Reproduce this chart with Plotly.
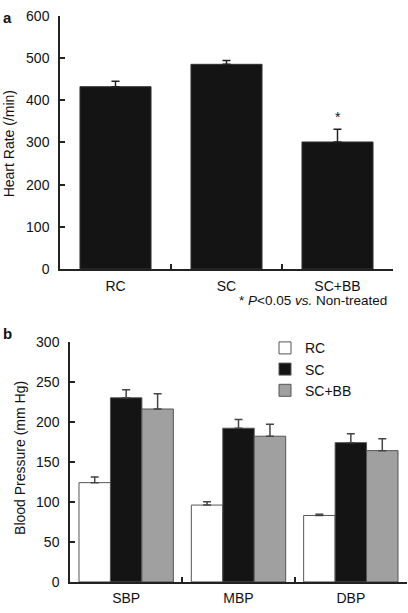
import plotly.graph_objects as go

# Panel a: heart rate
hr_groups = ["RC", "SC", "SC+BB"]
hr_values = [432, 485, 301]
hr_err = [13, 9, 30]

# Panel b: blood pressure
bp_categories = ["SBP", "MBP", "DBP"]
bp_rc = [124, 96, 83]
bp_rc_err = [7, 4, 1.5]
bp_sc = [230, 192, 174]
bp_sc_err = [10, 11, 11]
bp_scbb = [216, 182, 164]
bp_scbb_err = [19, 15, 15]

W, H = 408, 613
FONT = "Liberation Sans"
AX = "#222"
FS = 14

fig = go.Figure()

fig.add_trace(go.Bar(
    x=hr_groups, y=hr_values, width=0.64,
    marker=dict(color="#141414", line=dict(color="#333", width=1)),
    error_y=dict(type="data", symmetric=False, array=hr_err, arrayminus=[0, 0, 0],
                 color="#222", thickness=1.5, width=4),
    showlegend=False, xaxis="x", yaxis="y"))

def bp_trace(name, vals, errs, fill):
    return go.Bar(
        name=name, x=bp_categories, y=vals,
        marker=dict(color=fill, line=dict(color="#555", width=1)),
        error_y=dict(type="data", symmetric=False, array=errs, arrayminus=[0] * len(errs),
                     color="#444", thickness=1.5, width=4),
        xaxis="x2", yaxis="y2")

fig.add_trace(bp_trace("RC", bp_rc, bp_rc_err, "#ffffff"))
fig.add_trace(bp_trace("SC", bp_sc, bp_sc_err, "#141414"))
fig.add_trace(bp_trace("SC+BB", bp_scbb, bp_scbb_err, "#a0a0a0"))

def px_x(p):
    return p / W

def px_y(p):
    return (H - p) / H

axis_common = dict(showline=True, linecolor=AX, linewidth=1.5, ticks="inside",
                   tickcolor=AX, ticklen=5, tickwidth=1.5, showgrid=False,
                   zeroline=False, tickfont=dict(family=FONT, size=FS, color="#111"))

fig.update_layout(
    width=W, height=H,
    margin=dict(l=0, r=0, t=0, b=0),
    paper_bgcolor="white", plot_bgcolor="white",
    barmode="group", bargap=0.16, bargroupgap=0,
    font=dict(family=FONT, size=FS, color="#111"),
    xaxis=dict(domain=[px_x(60), px_x(393)], range=[-0.5, 2.5], tickson="boundaries",
               anchor="y", ticklabelstandoff=3, **axis_common),
    yaxis=dict(domain=[px_y(268), px_y(8)], range=[0, 600], dtick=100, anchor="x",
               ticklabelstandoff=6, **axis_common),
    xaxis2=dict(domain=[px_x(70), px_x(407)], range=[-0.5, 2.5], tickson="boundaries",
                anchor="y2", ticklabelstandoff=3, **axis_common),
    yaxis2=dict(domain=[px_y(589.3), px_y(342.7)], range=[0, 300], dtick=50, anchor="x2",
                ticklabelstandoff=6, **axis_common),
    legend=dict(x=px_x(265), y=px_y(333), xanchor="left", yanchor="top",
                font=dict(family=FONT, size=FS), bgcolor="rgba(0,0,0,0)",
                itemwidth=30, tracegroupgap=0),
    annotations=[
        dict(text="<b>a</b>", x=px_x(1), y=px_y(-1), xref="paper", yref="paper",
             xanchor="left", yanchor="top", showarrow=False, font=dict(size=15, family=FONT)),
        dict(text="<b>b</b>", x=px_x(1), y=px_y(323), xref="paper", yref="paper",
             xanchor="left", yanchor="top", showarrow=False, font=dict(size=15, family=FONT)),
        dict(text="Heart Rate (/min)", x=px_x(9), y=px_y(140), xref="paper", yref="paper",
             textangle=-90, xanchor="center", yanchor="middle", showarrow=False,
             font=dict(size=FS, family=FONT)),
        dict(text="Blood Pressure (mm Hg)", x=px_x(20), y=px_y(462), xref="paper", yref="paper",
             textangle=-90, xanchor="center", yanchor="middle", showarrow=False,
             font=dict(size=FS, family=FONT)),
        dict(text="*", x="SC+BB", y=hr_values[2] + hr_err[2] + 6, xref="x", yref="y",
             yanchor="bottom", showarrow=False, font=dict(size=FS, family=FONT)),
        dict(text="* <i>P</i><0.05 <i>vs.</i> Non-treated", x=px_x(389), y=px_y(300),
             xref="paper", yref="paper", xanchor="right", yanchor="middle",
             showarrow=False, font=dict(size=13.5, family=FONT)),
    ],
)

fig.write_html("out.html", config={"displayModeBar": False},
               post_script="document.body.style.margin='0';document.body.style.padding='0';")
